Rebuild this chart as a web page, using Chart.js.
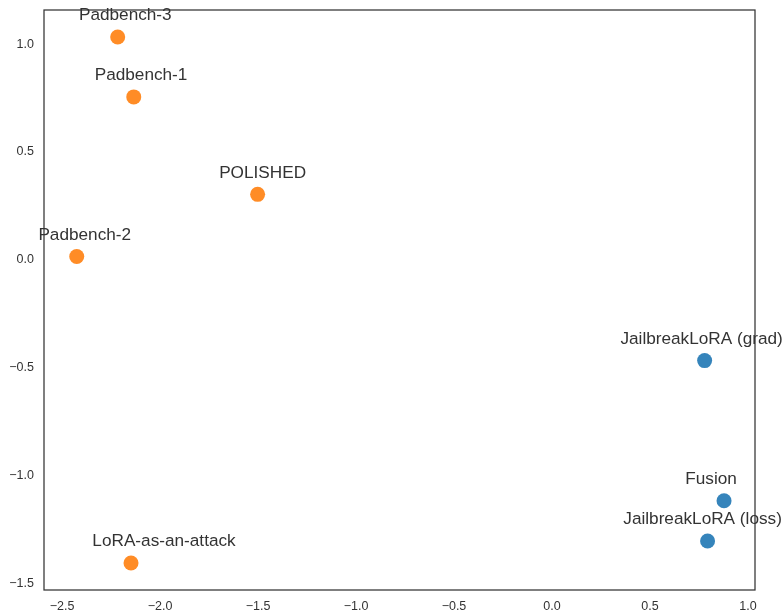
<!DOCTYPE html>
<html>
<head>
<meta charset="utf-8">
<script src="https://cdn.jsdelivr.net/npm/chart.js@4.4.0/dist/chart.umd.min.js"></script>
<style>
  html, body { margin: 0; padding: 0; background: #fff; }
  #wrap { width: 784px; height: 613px; }
</style>
</head>
<body>
<div id="wrap"><canvas id="scatterChart"></canvas></div>
<script>
  // point data
  const names = ['Padbench-3', 'Padbench-1', 'POLISHED', 'Padbench-2', 'LoRA-as-an-attack',
                 'JailbreakLoRA (grad)', 'Fusion', 'JailbreakLoRA (loss)'];
  const xs = [-2.216, -2.134, -1.502, -2.425, -2.148, 0.779, 0.878, 0.794];
  const ys = [1.033, 0.755, 0.303, 0.015, -1.407, -0.468, -1.118, -1.305];
  const groups = [0, 0, 0, 0, 0, 1, 1, 1];

  const xTicks = [-2.5, -2.0, -1.5, -1.0, -0.5, 0.0, 0.5, 1.0];
  const yTicks = [-1.5, -1.0, -0.5, 0.0, 0.5, 1.0];

  // horizontal nudge of each name label (px), as placed in the original
  const labelShift = [7.6, 7.3, 5, 8, 33, -3, -13, -5];

  const groupColors = ['rgba(255, 127, 14, 0.9)', 'rgba(31, 119, 180, 0.9)'];

  function pointsFor(g) {
      const pts = [];
      for (let i = 0; i < names.length; i++) {
          if (groups[i] === g) pts.push({ x: xs[i], y: ys[i], name: names[i], shift: labelShift[i] });
      }
      return pts;
  }

  const fmt = v => (v < 0 ? '\u2212' : '') + Math.abs(v).toFixed(1);

  // text above every point
  const pointLabels = {
      id: 'pointLabels',
      afterDatasetsDraw(chart) {
          const ctx = chart.ctx;
          ctx.save();
          ctx.font = '17.2px "Liberation Sans", Arial, sans-serif';
          ctx.fillStyle = '#333333';
          ctx.textAlign = 'center';
          ctx.textBaseline = 'middle';
          chart.data.datasets.forEach((ds, di) => {
              chart.getDatasetMeta(di).data.forEach((el, i) => {
                  const p = ds.data[i];
                  ctx.fillText(p.name, el.x + p.shift, el.y - 21.5);
              });
          });
          ctx.restore();
      }
  };

  // axes frame on top
  const frame = {
      id: 'frame',
      afterDraw(chart) {
          const a = chart.chartArea;
          const ctx = chart.ctx;
          ctx.save();
          ctx.strokeStyle = '#333333';
          ctx.lineWidth = 1.25;
          ctx.strokeRect(a.left, a.top, a.right - a.left, a.bottom - a.top);
          ctx.restore();
      }
  };

  const tickFont = { family: '"Liberation Sans", Arial, sans-serif', size: 12.5 };

  const scatterCtx = document.getElementById('scatterChart').getContext('2d');
  const scatterChart = new Chart(scatterCtx, {
      type: 'scatter',
      data: {
          datasets: [{
              data: pointsFor(0),
              backgroundColor: groupColors[0],
              borderWidth: 0,
              pointRadius: 7.5,
              pointHoverRadius: 7.5
          }, {
              data: pointsFor(1),
              backgroundColor: groupColors[1],
              borderWidth: 0,
              pointRadius: 7.5,
              pointHoverRadius: 7.5
          }]
      },
      options: {
          responsive: true,
          maintainAspectRatio: false,
          animation: false,
          layout: { padding: { top: 10, right: 29, left: 0, bottom: 0 } },
          plugins: {
              legend: { display: false },
              tooltip: { enabled: false }
          },
          scales: {
              x: {
                  type: 'linear',
                  min: -2.592,
                  max: 1.036,
                  grid: { display: false, drawTicks: false },
                  border: { display: false },
                  afterBuildTicks: s => { s.ticks = xTicks.map(v => ({ value: v })); },
                  afterFit: s => { s.height = 23; s.paddingLeft = 0; s.paddingRight = 0; },
                  ticks: {
                      color: '#333333',
                      font: tickFont,
                      padding: 9,
                      maxRotation: 0,
                      callback: v => fmt(v)
                  }
              },
              y: {
                  type: 'linear',
                  min: -1.532,
                  max: 1.158,
                  grid: { display: false, drawTicks: false },
                  border: { display: false },
                  afterBuildTicks: s => { s.ticks = yTicks.map(v => ({ value: v })); },
                  afterFit: s => { s.width = 44; s.paddingTop = 0; s.paddingBottom = 0; },
                  ticks: {
                      color: '#333333',
                      font: tickFont,
                      padding: 10,
                      callback: v => fmt(v)
                  }
              }
          }
      },
      plugins: [pointLabels, frame]
  });
</script>
</body>
</html>
